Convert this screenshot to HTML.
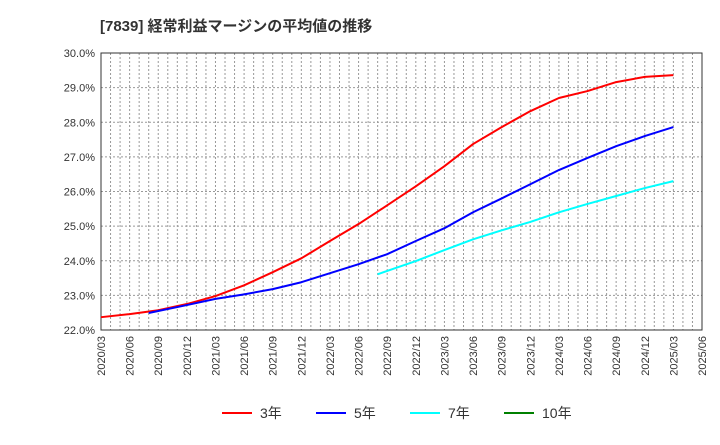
<!DOCTYPE html>
<html><head><meta charset="utf-8"><style>
body{margin:0;background:#fff;font-family:"Liberation Sans","Noto Sans CJK JP",sans-serif;}
</style></head><body>
<svg id="c" width="720" height="440" xmlns="http://www.w3.org/2000/svg">
<text x="100" y="31" font-size="15" font-weight="bold" fill="#333" font-family="Liberation Sans, Noto Sans CJK JP, sans-serif">[7839]  経常利益マージンの平均値の推移</text>
<g id="grid"></g><g id="axes"></g><g id="series"></g><g id="legend"></g>
</svg>
<script>
const yTicks=[22,23,24,25,26,27,28,29,30];
const xLabels=["2020/03","2020/06","2020/09","2020/12","2021/03","2021/06","2021/09","2021/12","2022/03","2022/06","2022/09","2022/12","2023/03","2023/06","2023/09","2023/12","2024/03","2024/06","2024/09","2024/12","2025/03","2025/06"];
const seriesNames=["3年","5年","7年","10年"];
const seriesColors=["#ff0000","#0000ff","#00ffff","#008000"];
const m3=[0,3,6,9,12,15,18,21,24,27,30,33,36,39,42,45,48,51,54,57,60];
const v3=[22.37,22.46,22.57,22.75,22.98,23.29,23.67,24.07,24.57,25.06,25.6,26.15,26.73,27.37,27.86,28.32,28.7,28.9,29.16,29.31,29.36];
const m5=[5,9,12,15,18,21,24,27,30,33,36,39,42,45,48,51,54,57,60];
const v5=[22.49,22.72,22.9,23.03,23.18,23.38,23.64,23.9,24.19,24.57,24.94,25.4,25.8,26.21,26.62,26.97,27.31,27.6,27.86];
const m7=[29,33,36,39,42,45,48,51,54,57,60];
const v7=[23.61,23.99,24.31,24.62,24.88,25.12,25.4,25.64,25.87,26.1,26.3];
const L=101,R=702,T=53,B=330,NM=63;
const X=m=>L+(R-L)*m/NM, Y=v=>B-(B-T)*(v-22)/8;
const NS="http://www.w3.org/2000/svg";
function mk(t,a,p){const e=document.createElementNS(NS,t);for(const k in a)e.setAttribute(k,a[k]);p.appendChild(e);return e;}
const g=document.getElementById('grid'),ax=document.getElementById('axes'),s=document.getElementById('series'),lg=document.getElementById('legend');
for(let m=1;m<NM;m++){const l=mk('line',{x1:X(m),x2:X(m),y1:T,y2:B,stroke:'#999','stroke-dasharray':'2,2','stroke-width':1},g);

}
yTicks.forEach(v=>{const l=mk('line',{x1:L,x2:R,y1:Y(v),y2:Y(v),stroke:'#999','stroke-dasharray':'2,2','stroke-width':1},g);


const t=mk('text',{x:L-6,y:Y(v)+4,'text-anchor':'end','font-size':11,fill:'#333'},ax);t.textContent=v.toFixed(1)+'%';

});
xLabels.forEach((lab,i)=>{const x=X(i*3);const t=mk('text',{transform:`translate(${x+4},${B+6}) rotate(-90)`,'text-anchor':'end','font-size':11,fill:'#333'},ax);t.textContent=lab;

});
const fr=mk('rect',{x:L,y:T,width:R-L,height:B-T,fill:'none',stroke:'#333','stroke-width':1},ax);


[[m3,v3,0],[m5,v5,1],[m7,v7,2]].forEach(([ms,vs,k])=>{const p=mk('polyline',{points:ms.map((m,i)=>X(m)+','+Y(vs[i])).join(' '),fill:'none',stroke:seriesColors[k],'stroke-width':2,'stroke-linejoin':'round'},s);

});
const lx=[222,316,410,504];
seriesNames.forEach((n,i)=>{const gg=mk('g',{},lg);


mk('line',{x1:lx[i],x2:lx[i]+30,y1:413,y2:413,stroke:seriesColors[i],'stroke-width':2},gg);
const t=mk('text',{x:lx[i]+38,y:418,'font-size':14,fill:'#333'},gg);t.textContent=n;});
</script>
</body></html>
